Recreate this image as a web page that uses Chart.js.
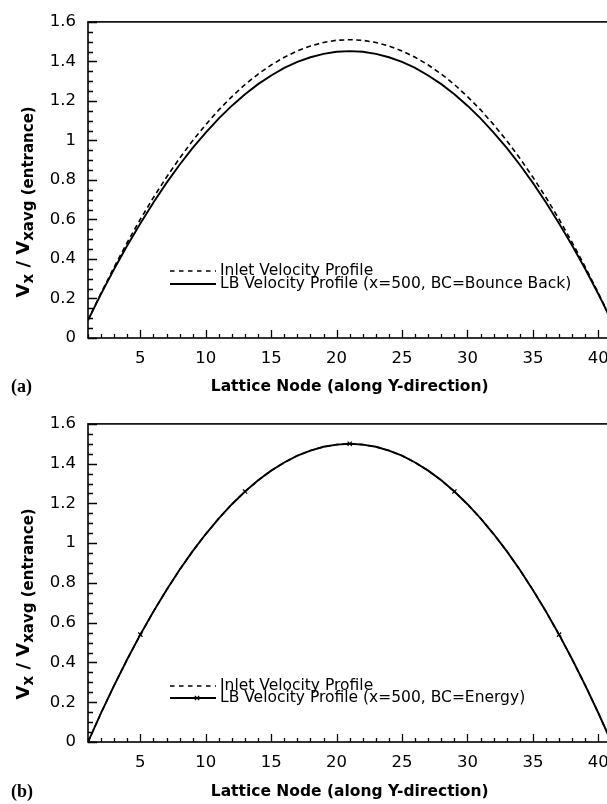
<!DOCTYPE html>
<html><head><meta charset="utf-8">
<script src="https://cdn.jsdelivr.net/npm/chart.js@4"></script>
<style>
html,body{margin:0;padding:0;background:#fff;overflow:hidden;width:607px;height:804px;}
.wrap{position:absolute;left:0;width:620px;height:402px;}
canvas{display:block;}
</style></head><body>
<div class="wrap" style="top:0"><canvas id="c1" width="620" height="402"></canvas></div>
<div class="wrap" style="top:402px"><canvas id="c2" width="620" height="402"></canvas></div>
<script>
// ---- data ----
const nodes = [1,2,3,4,5,6,7,8,9,10,11,12,13,14,15,16,17,18,19,20,21,22,23,24,25,26,27,28,29,30,31,32,33,34,35,36,37,38,39,40,41];
const inletA = [0.090,0.228,0.359,0.484,0.601,0.711,0.814,0.910,0.999,1.080,1.155,1.222,1.283,1.336,1.382,1.421,1.453,1.478,1.496,1.507,1.510,
                1.507,1.496,1.478,1.453,1.421,1.382,1.336,1.283,1.222,1.155,1.080,0.999,0.910,0.814,0.711,0.601,0.484,0.359,0.228,0.090];
const lbBounceBack = [0.090,0.223,0.349,0.468,0.580,0.686,0.785,0.877,0.962,1.040,1.112,1.176,1.234,1.285,1.329,1.367,1.398,1.421,1.438,1.449,1.452,
                      1.449,1.438,1.421,1.398,1.367,1.329,1.285,1.234,1.176,1.112,1.040,0.962,0.877,0.785,0.686,0.580,0.468,0.349,0.223,0.090];
const inletB = [0.000,0.146,0.285,0.416,0.540,0.656,0.765,0.866,0.960,1.046,1.125,1.196,1.260,1.316,1.365,1.406,1.440,1.466,1.485,1.496,1.500,
                1.496,1.485,1.466,1.440,1.406,1.365,1.316,1.260,1.196,1.125,1.046,0.960,0.866,0.765,0.656,0.540,0.416,0.285,0.146,0.000];
const lbEnergy = [0.000,0.146,0.285,0.416,0.540,0.656,0.765,0.866,0.960,1.046,1.125,1.196,1.260,1.316,1.365,1.406,1.440,1.466,1.485,1.496,1.500,
                  1.496,1.485,1.466,1.440,1.406,1.365,1.316,1.260,1.196,1.125,1.046,0.960,0.866,0.765,0.656,0.540,0.416,0.285,0.146,0.000];
const markerNodes = [5,13,21,29,37];
const xTickLabels = [5,10,15,20,25,30,35,40];
const yTickValues = [0,0.2,0.4,0.6,0.8,1,1.2,1.4,1.6];
const legendA = ['Inlet Velocity Profile','LB Velocity Profile (x=500, BC=Bounce Back)'];
const legendB = ['Inlet Velocity Profile','LB Velocity Profile (x=500, BC=Energy)'];
const xTitle = 'Lattice Node (along Y-direction)';

// ---- helpers ----
const FONT = '"DejaVu Sans", "Liberation Sans", sans-serif';
const pts = (vals) => nodes.map((n,i)=>({x:n, y:vals[i]}));

function drawCross(ctx, x, y, r){
  ctx.beginPath();
  ctx.moveTo(x-r,y-r); ctx.lineTo(x+r,y+r);
  ctx.moveTo(x-r,y+r); ctx.lineTo(x+r,y-r);
  ctx.stroke();
}

function panelPlugin(cfg){
  return {
    id: 'panel' + cfg.letter,
    afterDatasetsDraw(chart){
      const ctx = chart.ctx, a = chart.chartArea, xs = chart.scales.x, ys = chart.scales.y;
      ctx.save();
      ctx.strokeStyle = '#000'; ctx.fillStyle = '#000';
      // frame
      ctx.lineWidth = 1.6;
      ctx.strokeRect(a.left, a.top, a.right - a.left, a.bottom - a.top);
      // inward ticks
      ctx.lineWidth = 1.3;
      ctx.beginPath();
      for (let v = xs.min; v <= xs.max; v++){
        const px = Math.round(xs.getPixelForValue(v)) + 0.5;
        const L = (v % 5 === 0) ? 8 : 4;
        ctx.moveTo(px, a.bottom); ctx.lineTo(px, a.bottom - L);
      }
      for (let i = 0; i <= 32; i++){
        const py = Math.round(ys.getPixelForValue(i * 0.05)) + 0.5;
        const L = (i % 4 === 0) ? 9 : 5;
        ctx.moveTo(a.left, py); ctx.lineTo(a.left + L, py);
      }
      ctx.stroke();

      // legend
      ctx.font = '15.5px ' + FONT;
      ctx.textBaseline = 'middle'; ctx.textAlign = 'left';
      cfg.legend.forEach((lab, i) => {
        const ds = chart.data.datasets[i];
        const yy = a.bottom + cfg.legendRows[i];
        ctx.lineWidth = ds.borderWidth;
        ctx.setLineDash(ds.borderDash ? [4.5, 4.5] : []);
        ctx.beginPath(); ctx.moveTo(170, yy); ctx.lineTo(216, yy); ctx.stroke();
        ctx.setLineDash([]);
        if (cfg.legendMarker && i === 1){ ctx.lineWidth = 1.2; drawCross(ctx, 197, yy, 2.2); }
        ctx.fillText(lab, 220, yy);
      });

      // x title
      ctx.font = 'bold 15.5px ' + FONT;
      ctx.textAlign = 'center';
      ctx.fillText(xTitle, (a.left + a.right) / 2, a.bottom + cfg.xTitleOffset);
      // panel letter
      ctx.font = 'bold 18px "Liberation Serif", "DejaVu Serif", serif';
      ctx.textAlign = 'left';
      ctx.fillText('(' + cfg.letter + ')', 11, a.bottom + cfg.xTitleOffset + 1);

      // y title (rotated, with subscripts)
      const parts = [
        {t:'V', f:'bold 18px ' + FONT, dy:0},
        {t:'x', f:'bold 15px ' + FONT, dy:4},
        {t:' / ', f:'bold 18px ' + FONT, dy:0},
        {t:'V', f:'bold 18px ' + FONT, dy:0},
        {t:'xavg (entrance)', f:'bold 15px ' + FONT, dy:4}
      ];
      let total = 0;
      parts.forEach(p => { ctx.font = p.f; p.w = ctx.measureText(p.t).width; total += p.w; });
      ctx.translate(29, a.top + 180);
      ctx.rotate(-Math.PI / 2);
      ctx.textAlign = 'left'; ctx.textBaseline = 'alphabetic';
      let cx = -total / 2;
      parts.forEach(p => { ctx.font = p.f; ctx.fillText(p.t, cx, p.dy); cx += p.w; });
      ctx.restore();
    }
  };
}

function makeChart(id, datasets, padTop, axisH, cfg){
  return new Chart(document.getElementById(id), {
    type: 'line',
    data: { datasets },
    options: {
      responsive: false, animation: false, events: [],
      layout: { padding: { left: 0, right: 7, top: padTop, bottom: 0 } },
      plugins: { legend: { display: false }, tooltip: { enabled: false } },
      elements: { line: { tension: 0 } },
      scales: {
        x: {
          type: 'linear', min: 1, max: 41,
          grid: { display: false, drawTicks: false }, border: { display: false },
          ticks: { color: '#000', font: { family: FONT, size: 16.5 }, padding: 11, maxRotation: 0, autoSkip: false,
                   callback: v => String(v) },
          afterBuildTicks: s => { s.ticks = xTickLabels.map(v => ({ value: v })); },
          afterFit: s => { s.height = axisH; }
        },
        y: {
          type: 'linear', min: 0, max: 1.6,
          grid: { display: false, drawTicks: false }, border: { display: false },
          ticks: { color: '#000', font: { family: FONT, size: 16.5 }, padding: 12,
                   callback: v => String(Math.round(v * 10) / 10) },
          afterBuildTicks: s => { s.ticks = yTickValues.map(v => ({ value: v })); },
          afterFit: s => { s.width = 88; }
        }
      }
    },
    plugins: [panelPlugin(cfg)]
  });
}

makeChart('c1', [
  { label: legendA[0], data: pts(inletA), borderColor: '#000', borderWidth: 1.6, borderDash: [5, 3.5], pointRadius: 0, fill: false },
  { label: legendA[1], data: pts(lbBounceBack), borderColor: '#000', borderWidth: 1.9, pointRadius: 0, fill: false }
], 13, 64, { letter: 'a', legend: legendA, legendRows: [-67, -54], xTitleOffset: 48.5, legendMarker: false });

makeChart('c2', [
  { label: legendB[0], data: pts(inletB), borderColor: '#000', borderWidth: 1.6, borderDash: [5, 3.5], pointRadius: 0, fill: false },
  { label: legendB[1], data: pts(lbEnergy), borderColor: '#000', borderWidth: 1.9, fill: false,
    pointStyle: 'crossRot', pointBorderColor: '#000', pointBorderWidth: 1.2,
    pointRadius: c => markerNodes.includes(nodes[c.dataIndex]) ? 3 : 0 }
], 15, 62, { letter: 'b', legend: legendB, legendRows: [-56, -44], xTitleOffset: 49.5, legendMarker: true });
</script>
</body></html>
